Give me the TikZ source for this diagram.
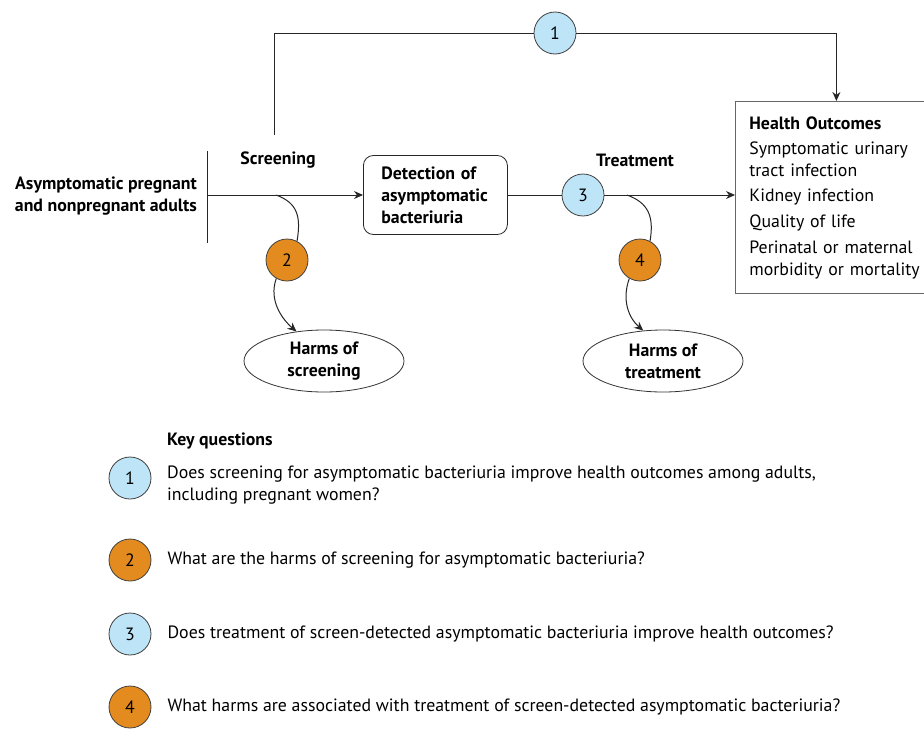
\documentclass[tikz,border=0pt]{standalone}
\usepackage{fontspec}
\setmainfont{PT Sans}
\usetikzlibrary{shapes.geometric,arrows.meta,positioning,calc}
\definecolor{kqblue}{RGB}{189,228,247}
\definecolor{kqorange}{RGB}{227,139,30}

\begin{document}
\begin{tikzpicture}[x=1pt, y=-1pt,
        font=\fontsize{17.8}{22}\selectfont,
        kq/.style={circle, draw=black!75, line width=0.8pt, minimum size=42pt, inner sep=0pt},
        kqb/.style={kq, fill=kqblue},
        kqo/.style={kq, fill=kqorange},
        lbl/.style={inner sep=0pt, align=center, font=\fontsize{17.8}{22}\selectfont\bfseries},
        harm/.style={ellipse, draw=black!80, line width=0.8pt, minimum width=160pt, minimum height=62pt, inner sep=0pt, align=center, font=\fontsize{17.8}{22}\selectfont\bfseries},
        qtext/.style={inner sep=0pt, anchor=west, align=left},
        line/.style={line width=1pt, draw=black!85},
        arrow/.style={line, -{Stealth[length=9pt, width=8pt]}}
    ]

    \useasboundingbox[fill=white] (0,0) rectangle (924,747);

    % population, screening, detection
    \node[lbl, align=right, anchor=east] (pop) at (197,196) {Asymptomatic pregnant\\and nonpregnant adults};
    \coordinate (bartop) at (207,151);
    \coordinate (barbot) at (207,243);
    \coordinate (popline) at (207,195);
    \node[lbl] (screening) at (278,160) {Screening};
    \node[draw=black!85, line width=0.8pt, rounded corners=10pt, anchor=west, align=left, text width=108pt, inner xsep=18pt, minimum height=79pt, font=\fontsize{17.8}{22}\selectfont\bfseries] (detect) at (363,195) {Detection of\\asymptomatic\\bacteriuria};

    % treatment and outcomes
    \node[kqb] (k3) at (583,195) {3};
    \node[lbl] (treatment) at (635,160) {Treatment};
    \node[draw=black!60, line width=0.8pt, anchor=north west, align=left, text width=174pt, inner xsep=14pt, inner ysep=15pt, minimum height=192pt] (outcomes) at (735,101)
        {\textbf{Health Outcomes}\\[3pt] Symptomatic urinary\\tract infection\\[3pt] Kidney infection\\[4pt] Quality of life\\[4pt] Perinatal or maternal\\morbidity or mortality};

    % overarching question
    \coordinate (kq1start) at (274,135);
    \node[kqb] (k1) at (555,33) {1};

    % harms
    \node[kqo] (k2) at (287,260) {2};
    \node[kqo] (k4) at (640,260) {4};
    \node[harm] (hscreen) at (324,361) {Harms of\\screening};
    \node[harm] (htreat) at (663,361) {Harms of\\treatment};
    \coordinate (s2) at (276,195);
    \coordinate (s4) at (627,195);

    \draw[line] (bartop) -- (barbot);
    \draw[arrow] (popline) -- (detect);
    \draw[line] (detect) -- (k3);
    \draw[arrow] (k3) -- (k3 -| outcomes.west);
    \draw[line] (kq1start) |- (k1.west);
    \draw[arrow] (k1.east) -| (outcomes.north);

    \draw[line] (s2) .. controls +(22,8) and +(4,-24) .. (k2.62);
    \draw[arrow] (k2.240) .. controls +(-8,22) and +(-14,-12) .. (hscreen.133);
    \draw[line] (s4) .. controls +(22,8) and +(4,-24) .. (k4.62);
    \draw[arrow] (k4.240) .. controls +(-8,22) and +(-14,-12) .. (htreat.123);

    % key questions
    \node[lbl, anchor=west] (kqtitle) at (167,441) {Key questions};
    \node[kqb] (q1) at (130,478) {1};
    \node[kqo] (q2) at (130,560) {2};
    \node[kqb] (q3) at (130,634) {3};
    \node[kqo] (q4) at (130,707) {4};
    \node[qtext, anchor=north west] (t1) at (167,466) {Does screening for asymptomatic bacteriuria improve health outcomes among adults,\\including pregnant women?};
    \node[qtext, right=16pt of q2] (t2) {What are the harms of screening for asymptomatic bacteriuria?};
    \node[qtext, right=16pt of q3] (t3) {Does treatment of screen-detected asymptomatic bacteriuria improve health outcomes?};
    \node[qtext, right=16pt of q4] (t4) {What harms are associated with treatment of screen-detected asymptomatic bacteriuria?};

\end{tikzpicture}
\end{document}
